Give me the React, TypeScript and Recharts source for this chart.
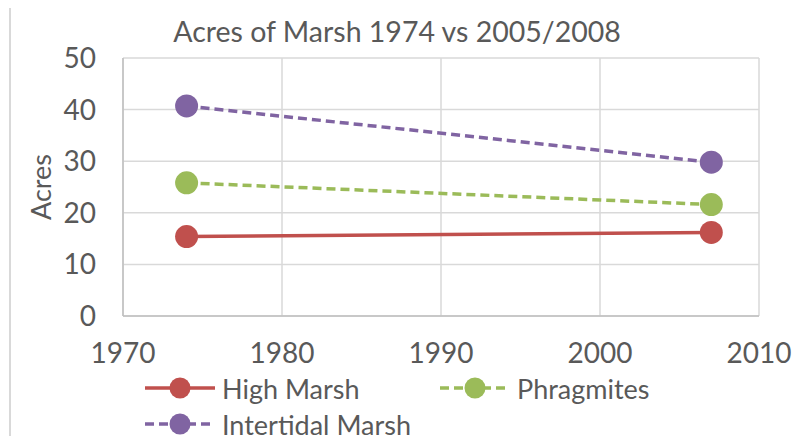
import React from "react";
import { LineChart, Line, XAxis, YAxis, CartesianGrid } from "recharts";

const years = [1974, 2007];
const highMarsh = [15.4, 16.2];
const phragmites = [25.8, 21.6];
const intertidal = [40.7, 29.8];
const xTicks = [1970, 1980, 1990, 2000, 2010];
const yTicks = [0, 10, 20, 30, 40, 50];

const data = years.map((y, i) => ({
  year: y,
  high: highMarsh[i],
  phrag: phragmites[i],
  inter: intertidal[i],
}));

const FONT = "Lato, 'Liberation Sans', sans-serif";
const TXT = "#595959";

const series = [
  { key: "high", name: "High Marsh", color: "#C0504D", dash: undefined as string | undefined },
  { key: "phrag", name: "Phragmites", color: "#9BBB59", dash: "9 5" },
  { key: "inter", name: "Intertidal Marsh", color: "#8064A2", dash: "9 5" },
];

const legendPos = [
  { left: 145, top: 372 },
  { left: 440, top: 372 },
  { left: 145, top: 408 },
];

export default function App() {
  return (
    <div style={{ position: "relative", margin: -8, width: 804, height: 444, background: "#fff", overflow: "hidden", fontFamily: FONT }}>
      <div style={{ position: "absolute", left: 9, top: 5, width: 900, height: 600, borderLeft: "2px solid #d9d9d9", borderTop: "1px solid #d9d9d9" }} />
      <div style={{ position: "absolute", left: 0, width: 794, top: 11, textAlign: "center", fontSize: 28.5, color: TXT, lineHeight: "40px" }}>
        Acres of Marsh 1974 vs 2005/2008
      </div>
      <div style={{ position: "absolute", left: 0, top: 0 }}>
        <LineChart width={804} height={444} data={data} margin={{ top: 58, right: 45, bottom: 88, left: 0 }}>
          <CartesianGrid stroke="#d9d9d9" strokeWidth={1.5} />
          <XAxis
            dataKey="year"
            type="number"
            domain={[1970, 2010]}
            ticks={xTicks}
            stroke="#bfbfbf"
            strokeWidth={1.5}
            tickLine={false}
            tickSize={0}
            tickMargin={27}
            height={40}
            tick={{ fill: TXT, fontSize: 28, fontFamily: FONT }}
          />
          <YAxis
            type="number"
            domain={[0, 50]}
            ticks={yTicks}
            width={123}
            stroke="#bfbfbf"
            strokeWidth={1.5}
            tickLine={false}
            tickSize={0}
            tickMargin={27}
            tick={{ fill: TXT, fontSize: 28, fontFamily: FONT }}
            label={{ value: "Acres", angle: -90, position: "insideLeft", offset: 41, fill: TXT, fontSize: 27, fontFamily: FONT, style: { textAnchor: "middle" } }}
          />
          {series.map((s) => (
            <Line
              key={s.key}
              dataKey={s.key}
              name={s.name}
              stroke={s.color}
              strokeWidth={3.5}
              strokeDasharray={s.dash}
              dot={{ r: 11.5, fill: s.color, stroke: s.color, strokeWidth: 0 }}
              isAnimationActive={false}
            />
          ))}
        </LineChart>
      </div>
      {series.map((s, i) => (
        <div key={s.key} style={{ position: "absolute", left: legendPos[i].left, top: legendPos[i].top, display: "flex", alignItems: "center", color: TXT, fontSize: 27, height: 32 }}>
          <svg width={70} height={30} style={{ marginRight: 7 }}>
            <line x1={0} y1={15} x2={70} y2={15} stroke={s.color} strokeWidth={3.5} strokeDasharray={s.dash} />
            <circle cx={35} cy={15} r={10.5} fill={s.color} />
          </svg>
          <span>{s.name}</span>
        </div>
      ))}
    </div>
  );
}
